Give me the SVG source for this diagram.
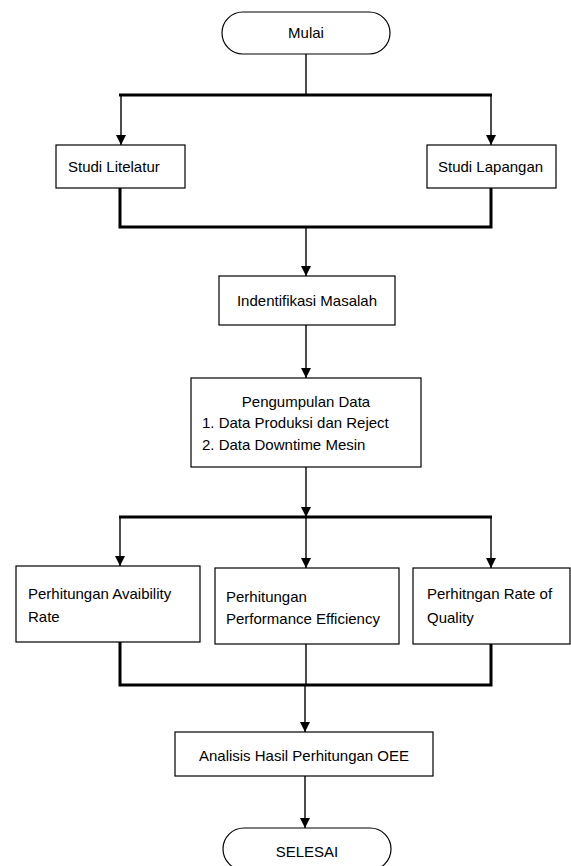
<svg xmlns="http://www.w3.org/2000/svg" width="571" height="866" viewBox="0 0 571 866">
<style>
.box{fill:#fff;stroke:#000;stroke-width:1.2}
.t{font-family:"Liberation Sans",Arial,sans-serif;font-size:15px;fill:#000}
.c{text-anchor:middle}
.thin{fill:none;stroke:#000;stroke-width:1.4}
.thick{fill:none;stroke:#000;stroke-width:3}
</style>
<defs>
<marker id="ah" viewBox="0 0 10 10" refX="10" refY="5" markerWidth="10" markerHeight="10" markerUnits="userSpaceOnUse" orient="auto">
<path d="M0,0 L10,5 L0,10 z" fill="#000"/>
</marker>
</defs>
<rect width="571" height="866" fill="#fff"/>
<g id="connectors">
<line class="thin" x1="306" y1="54" x2="306" y2="95"/>
<line class="thick" x1="119" y1="95" x2="492" y2="95"/>
<line class="thin" x1="121" y1="95" x2="121" y2="145" marker-end="url(#ah)"/>
<line class="thin" x1="491" y1="95" x2="491" y2="145" marker-end="url(#ah)"/>
<polyline class="thick" points="120,188 120,227 491,227 491,188"/>
<line class="thin" x1="306" y1="227" x2="306" y2="276" marker-end="url(#ah)"/>
<line class="thin" x1="306" y1="325" x2="306" y2="378" marker-end="url(#ah)"/>
<line class="thin" x1="306" y1="467" x2="306" y2="517" marker-end="url(#ah)"/>
<line class="thick" x1="119" y1="517" x2="492" y2="517"/>
<line class="thin" x1="120" y1="517" x2="120" y2="566" marker-end="url(#ah)"/>
<line class="thin" x1="306" y1="517" x2="306" y2="568" marker-end="url(#ah)"/>
<line class="thin" x1="491" y1="517" x2="491" y2="568" marker-end="url(#ah)"/>
<polyline class="thick" points="120,642 120,685 491,685 491,644"/>
<line class="thin" x1="306" y1="644" x2="306" y2="685"/>
<line class="thin" x1="305" y1="685" x2="305" y2="732" marker-end="url(#ah)"/>
<line class="thin" x1="305" y1="776" x2="305" y2="828" marker-end="url(#ah)"/>
</g>
<g id="mulai">
<rect class="box" x="222" y="12" width="168" height="42" rx="21" ry="21"/>
<text class="t c" x="306" y="38">Mulai</text>
</g>
<g id="studi-litelatur">
<rect class="box" x="56" y="145" width="129" height="43"/>
<text class="t" x="68" y="172">Studi Litelatur</text>
</g>
<g id="studi-lapangan">
<rect class="box" x="427" y="145" width="129" height="43"/>
<text class="t" x="438" y="172">Studi Lapangan</text>
</g>
<g id="identifikasi">
<rect class="box" x="219" y="276" width="176" height="49"/>
<text class="t c" x="307" y="306">Indentifikasi Masalah</text>
</g>
<g id="pengumpulan">
<rect class="box" x="191" y="378" width="230" height="89"/>
<text class="t c" x="306" y="407">Pengumpulan Data</text>
<text class="t" x="202" y="428">1. Data Produksi dan Reject</text>
<text class="t" x="202" y="450">2. Data Downtime Mesin</text>
</g>
<g id="availability">
<rect class="box" x="16" y="566" width="184" height="76"/>
<text class="t" x="28" y="599">Perhitungan Avaibility</text>
<text class="t" x="28" y="622">Rate</text>
</g>
<g id="performance">
<rect class="box" x="215" y="568" width="184" height="76"/>
<text class="t" x="226" y="602">Perhitungan</text>
<text class="t" x="226" y="624">Performance Efficiency</text>
</g>
<g id="quality">
<rect class="box" x="413" y="568" width="157" height="76"/>
<text class="t" x="427" y="599">Perhitngan Rate of</text>
<text class="t" x="427" y="623">Quality</text>
</g>
<g id="analisis">
<rect class="box" x="175" y="732" width="258" height="44"/>
<text class="t c" x="304" y="761">Analisis Hasil Perhitungan OEE</text>
</g>
<g id="selesai">
<rect class="box" x="223" y="828" width="168" height="42" rx="21" ry="21"/>
<text class="t c" x="307" y="857">SELESAI</text>
</g>
</svg>
